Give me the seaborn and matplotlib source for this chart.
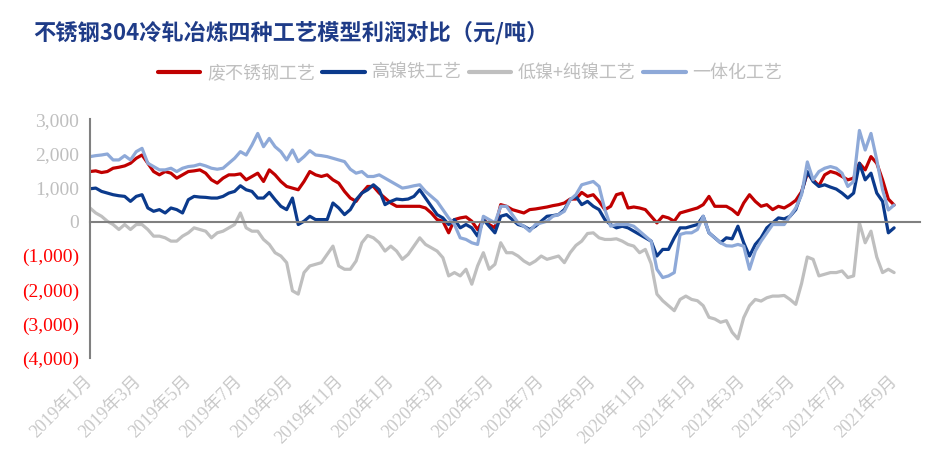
import numpy as np
import pandas as pd
import matplotlib
matplotlib.use("Agg")
import matplotlib.pyplot as plt
import matplotlib.dates as mdates
import seaborn as sns

# ---------------- data (weekly readings, 元/吨) ----------------
dates = pd.date_range("2019-01-01", periods=140, freq="7D")

scrap = [1466, 1486, 1437, 1466, 1563, 1592, 1631, 1709, 1855, 1951, 1709, 1466, 1369, 1466, 1418, 1272,
         1369, 1466, 1486, 1515, 1418, 1223, 1126, 1272, 1369, 1369, 1398, 1223, 1321, 1418, 1175, 1515,
         1369, 1175, 1029, 981, 932,
         1175, 1466, 1369, 1321, 1369, 1223, 1126, 884, 689, 592, 835, 1029, 1029, 835, 689, 544,
         447, 447, 447, 447, 447, 398, 252, 58, 10, -330, 58, 107, 136, 10, -233, 58, -87, -184, 496, 447,
         350, 301, 252, 350, 369, 398, 427, 466, 496, 544, 660, 660, 854, 738, 787, 592, 350, 447, 787,
         835, 398, 427, 398, 350, 155, -39, 155, 107, 10, 252, 301, 350, 398, 496, 738, 447, 447,
         447, 350, 204, 544, 787, 592, 447, 496, 350, 447, 398, 496, 621, 874, 1418, 1223, 1049, 1369,
         1466, 1418, 1321, 1223, 1272, 1709, 1515, 1903, 1709, 1223, 660, 485]

high_ni = [961, 981, 884, 835, 787, 757, 738, 592, 738, 787, 398, 301, 350, 252, 398, 350, 252, 641,
           738, 718, 709, 689, 689, 738, 835, 884, 1049, 932, 884, 689, 689, 854, 641, 447, 350, 689, -87,
           10, 155, 58, 58, 58, 544, 398, 204, 350, 641, 835, 932, 1078, 932, 496, 592, 660, 641, 660,
           738, 932, 689, 447, 204, 107, -87, 58, -184, -87, -184, -427, 58, -136, -330, 155, 204,
           58, -87, -136, -233, -136, 10, 155, 175, 204, 350, 641, 738, 496, 592, 447, 350, 58, -87,
           -184, -136, -184, -282, -379, -476, -573, -1010, -816, -816, -476, -184, -184, -136, -87, 155,
           -330, -476, -621,
           -476, -505, -136, -621, -1010, -670, -476, -184, -39, 107, 78, 155, 350, 835, 1466, 1175,
           1029, 1078, 1010, 952, 835, 689, 835, 1709, 1223, 1418, 835, 592, -330, -184]

low_ni = [398, 252, 155, 10, -87, -233, -87, -233, -87, -87, -233, -427, -427, -476, -573, -573, -427,
          -330, -184, -233, -282, -476, -330, -282, -184, -87, 252, -184, -282, -282, -524, -670, -913,
          -1010, -1204, -2029, -2126,
          -1495, -1301, -1253, -1204, -961, -719, -1301, -1398, -1398, -1155, -621, -408, -476, -621,
          -864, -719, -864, -1107, -961, -719, -476, -670, -767, -864, -1058, -1592, -1495, -1592, -1398,
          -1835, -1301, -913, -1398, -1253, -621, -913,
          -913, -1010, -1155, -1253, -1155, -1010, -1107, -1058, -1010, -1204, -913, -699, -573, -350,
          -330, -476, -524, -524, -505, -573, -670, -719, -913, -816, -1233, -2126, -2320, -2466, -2612,
          -2282, -2184, -2282, -2320, -2466, -2806, -2855, -2952,
          -2903, -3243, -3437, -2816, -2466, -2282, -2330, -2233, -2184, -2184, -2165, -2282, -2427,
          -1816, -1039, -1107, -1592, -1544, -1495, -1495, -1447, -1641, -1592, -39, -621, -282, -1039,
          -1495, -1398, -1495]

integrated = [1903, 1932, 1951, 1980, 1806, 1806, 1932, 1806, 2049, 2146, 1709, 1612, 1515, 1515, 1563,
              1466, 1563, 1612, 1631, 1680, 1631, 1563, 1534, 1563, 1709, 1855, 2049, 1951, 2243, 2583,
              2194, 2437, 2194, 2049, 1806, 2097, 1757,
              1903, 2078, 1951, 1932, 1903, 1855, 1806, 1757, 1534, 1418, 1466, 1321, 1321, 1369, 1272,
              1175, 1078, 981, 1010, 1049, 1078, 884, 738, 592, 350, 107, -87, -476, -524, -621, -670,
              155, 58, -39, 447, 447,
              204, -39, -136, -282, -87, -39, 10, 155, 204, 301, 641, 787, 1078, 1126, 1175, 1029, 350,
              -136, -87, -87, -87, -136, -282, -427, -573, -1398, -1641, -1592, -1495, -379, -330, -330,
              -233, 155, -330, -476, -621,
              -709, -719, -670, -719, -1398, -864, -573, -330, -87, -87, -87, 155, 398, 787, 1748, 1223,
              1466, 1563, 1612, 1563, 1418, 1029, 1175, 2670, 2097, 2583, 1806, 932, 340, 485]

series_names = ["废不锈钢工艺", "高镍铁工艺", "低镍+纯镍工艺", "一体化工艺"]
series_colors = ["#C00000", "#0B3A8C", "#BFBFBF", "#8EA9D8"]

y_ticks = [-4000, -3000, -2000, -1000, 0, 1000, 2000, 3000]
y_labels = ["(4,000)", "(3,000)", "(2,000)", "(1,000)", "0", "1,000", "2,000", "3,000"]

tick_months = pd.date_range("2019-01-01", "2021-09-01", freq="2MS")
tick_labels = [f"{d.year}年{d.month}月" for d in tick_months]

title = "不锈钢304冷轧冶炼四种工艺模型利润对比（元/吨）"

# ---------------- build long table ----------------
df = pd.DataFrame({
    "date": np.tile(dates, 4),
    "value": np.concatenate([scrap, high_ni, low_ni, integrated]),
    "series": np.repeat(series_names, len(dates)),
})

sns.set_style("white")
plt.rcParams["font.family"] = ["Liberation Serif", "Noto Sans CJK SC"]

fig = plt.figure(figsize=(9.44, 4.73), dpi=100)
ax = fig.add_axes([0.0953, 0.243, 0.879, 0.505])

sns.lineplot(data=df, x="date", y="value", hue="series", hue_order=series_names,
             palette=series_colors, linewidth=2.3, ax=ax, legend=True)

leg = ax.get_legend()
handles = list(leg.legend_handles)
labels = [t.get_text() for t in leg.get_texts()]
leg.remove()

ax.set_xlabel("")
ax.set_ylabel("")

# y axis
ax.set_ylim(-4000, 3000)
ax.set_yticks(y_ticks, labels=y_labels)
for lab, v in zip(ax.get_yticklabels(), y_ticks):
    lab.set_color("#FF0000" if v < 0 else "#BFBFBF")
ax.tick_params(axis="y", length=5, width=1.5, color="#808080", labelsize=14, pad=3)

# x axis: spine at zero, labels at the bottom
ax.set_xlim(pd.Timestamp("2019-01-01"), pd.Timestamp("2021-10-01"))
ax.spines["bottom"].set_position(("data", 0))
for s in ["top", "right"]:
    ax.spines[s].set_visible(False)
for s in ["left", "bottom"]:
    ax.spines[s].set_color("#808080")
    ax.spines[s].set_linewidth(1.5)
ax.set_xticks(mdates.date2num(tick_months))
ax.tick_params(axis="x", length=5, width=1.5, color="#808080", direction="out", labelbottom=False)

secax = ax.secondary_xaxis("bottom")
secax.set_xticks(mdates.date2num(tick_months), labels=tick_labels)
secax.spines["bottom"].set_visible(False)
secax.tick_params(axis="x", length=0, pad=15, labelsize=12.8, labelcolor="#C8C8C8")
for lab in secax.get_xticklabels():
    lab.set_rotation(45)
    lab.set_ha("right")
    lab.set_va("center")
    lab.set_rotation_mode("anchor")

# title
fig.text(33 / 944, 1 - 33 / 473, title, fontsize=16, fontweight="bold", color="#1F3C88",
         family=["Noto Sans CJK SC"], ha="left", va="center")

# legend
for h in handles:
    h.set_linewidth(3)
fig.legend(handles, labels, loc="center", bbox_to_anchor=(0.498, 0.846), ncol=4, frameon=False,
           prop={"family": ["Noto Sans CJK SC"], "size": 13}, labelcolor="#BFBFBF",
           handlelength=2.35, handletextpad=0.38, columnspacing=0.4)

fig.savefig("out.png", dpi=100)
